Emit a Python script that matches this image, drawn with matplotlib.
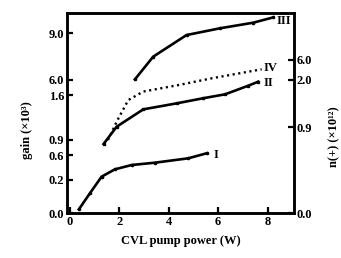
import numpy as np
import matplotlib
matplotlib.use("Agg")
import matplotlib.pyplot as plt

# ---- data ----
x_I = [0.36, 0.81, 1.28, 1.82, 2.50, 3.44, 4.79, 5.53]
y_I = [0.022, 0.12, 0.253, 0.371, 0.44, 0.477, 0.547, 0.634]

x_II = [1.36, 1.89, 2.97, 4.32, 5.40, 6.28, 7.22, 7.62]
y_II = [0.82, 1.107, 1.377, 1.47, 1.55, 1.8, 4.33, 5.5]

x_III = [2.63, 3.37, 4.72, 6.07, 7.42, 8.23]
y_III = [6.04, 7.49, 8.87, 9.30, 9.66, 10.0]

x_IV = [1.54, 1.89, 2.36, 2.97, 4.38, 5.74, 7.76]
y_IV = [0.764, 1.024, 1.53, 1.73, 1.88, 2.34, 4.14]

left_ticks = [0.0, 0.2, 0.6, 0.9, 1.6, 6.0, 9.0]
left_labels = ["0.0", "0.2", "0.6", "0.9", "1.6", "6.0", "9.0"]
right_ticks = [0.0, 0.9, 2.0, 6.0]
right_labels = ["0.0", "0.9", "2.0", "6.0"]
x_ticks = [0, 2, 4, 6, 8]

# piecewise axis mapping (value -> position)
L_val = [0.0, 0.2, 0.6, 0.9, 1.6, 6.0, 9.0, 10.28]
L_pos = [0, 33, 58, 73, 118, 133, 180, 200]
R_val = [0.0, 0.9, 2.0, 6.0, 15.4]
R_pos = [0, 86, 133, 153, 200]

def make_scale(vals, pos):
    def fwd(v):
        return np.interp(v, vals, pos)
    def inv(p):
        return np.interp(p, pos, vals)
    return fwd, inv

plt.rcParams['font.family'] = ['Liberation Serif', 'DejaVu Serif']
plt.rcParams['font.weight'] = 'bold'

fig = plt.figure(figsize=(3.41, 2.58), dpi=100)
ax = fig.add_axes([67/341, 1-213/258, (294-67)/341, (213-13)/258])
ax2 = ax.twinx()

ax.set_yscale('function', functions=make_scale(L_val, L_pos))
ax2.set_yscale('function', functions=make_scale(R_val, R_pos))
ax.set_ylim(0, 10.28)
ax2.set_ylim(0, 15.4)
ax.set_xlim(-0.12, 9.07)

lw = 1.9
ax.plot(x_I, y_I, color='black', lw=lw, marker='o', ms=1.6, solid_joinstyle='round')
ax.plot(x_II, y_II, color='black', lw=lw, marker='s', ms=2.0, solid_joinstyle='round')
ax.plot(x_III, y_III, color='black', lw=lw, marker='o', ms=1.6, solid_joinstyle='round')
ax2.plot(x_IV, y_IV, color='black', lw=1.7, ls=(0, (0.9, 1.5)))

ax.set_yticks(left_ticks)
ax.set_yticklabels(left_labels)
ax2.set_yticks(right_ticks)
ax2.set_yticklabels(right_labels)
ax.set_xticks(x_ticks)
ax.yaxis.set_minor_locator(matplotlib.ticker.NullLocator())
ax2.yaxis.set_minor_locator(matplotlib.ticker.NullLocator())

for a in (ax, ax2):
    for s in a.spines.values():
        s.set_linewidth(1.8)
ax.tick_params(direction='in', length=4, width=1.6, labelsize=9, pad=2)
ax2.tick_params(direction='in', length=4, width=1.6, labelsize=9, pad=2)

ax.set_xlabel("CVL pump power (W)", fontsize=9, fontweight='bold', labelpad=5)
fig.text(27/341, 1-130/258, "gain (×10³)", rotation=90, ha='center', va='center',
         fontsize=9, fontweight='bold')
fig.text(334/341, 1-137/258, "n(+) (×10¹²)", rotation=90, ha='center', va='center',
         fontsize=9, fontweight='bold')

ax.text(8.38, 9.75, "III", fontsize=9, fontweight='bold', va='center', ha='left')
ax.text(7.85, 5.0, "II", fontsize=9, fontweight='bold', va='center', ha='left')
ax.text(5.8, 0.6, "I", fontsize=9, fontweight='bold', va='center', ha='left')
ax2.text(7.85, 4.4, "IV", fontsize=9, fontweight='bold', va='center', ha='left')

fig.savefig("out.png", dpi=100)
